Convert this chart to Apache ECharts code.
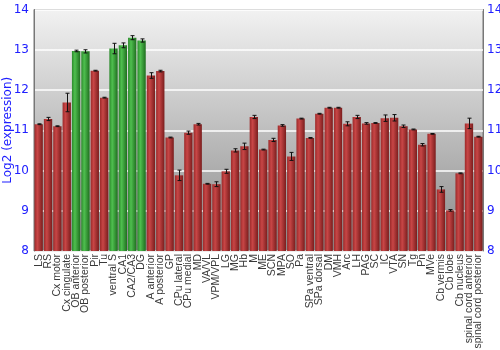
<!DOCTYPE html>
<html><head><meta charset="utf-8">
<script src="https://cdn.jsdelivr.net/npm/echarts@6/dist/echarts.min.js"></script>
<style>html,body{margin:0;padding:0;background:#fff}#c{width:500px;height:350px}</style>
</head><body><div id="c"></div>
<script>
const categories = ["LS","RS","Cx motor","Cx cingulate","OB anterior","OB posterior","Pir","Tu","ventral S","CA1","CA2/CA3","DG","A anterior","A posterior","GP","CPu lateral","CPu medial","MD","VA/VL","VPM/VPL","LG","MG","Hb","M","ME","SCN","MPA","SO","Pa","SPa ventral","SPa dorsal","DM","VMH","Arc","LH","PAG","SC","IC","VTA","SN","Tg","Pn","MVe","Cb vermis","Cb lobe","Cb nucleus","spinal cord anterior","spinal cord posterior"];
const values = [11.15,11.28,11.10,11.69,12.97,12.96,12.48,11.81,13.03,13.11,13.30,13.23,12.36,12.47,10.82,9.88,10.94,11.15,9.67,9.66,9.98,10.50,10.60,11.33,10.52,10.76,11.12,10.35,11.29,10.81,11.41,11.56,11.56,11.16,11.33,11.17,11.18,11.30,11.31,11.10,11.02,10.64,10.91,9.53,9.01,9.93,11.17,10.84];
const errors = [0.01,0.04,0.01,0.23,0.02,0.04,0.01,0.01,0.13,0.06,0.05,0.04,0.07,0.02,0.01,0.13,0.04,0.02,0.01,0.06,0.05,0.04,0.08,0.04,0.01,0.04,0.02,0.10,0.01,0.01,0.01,0.01,0.01,0.05,0.04,0.02,0.01,0.08,0.08,0.03,0.01,0.03,0.01,0.07,0.02,0.01,0.13,0.01];
const highlighted = ["OB anterior","OB posterior","ventral S","CA1","CA2/CA3","DG"];
const yTicks = [8,9,10,11,12,13,14];

function grad(a,b,c){return new echarts.graphic.LinearGradient(0,0,1,0,[{offset:0,color:a},{offset:0.35,color:b},{offset:1,color:c}]);}
const redG = grad('#9c2a2a','#c84646','#7a1d1d');
const greenG = grad('#2b8a2b','#4fbf4f','#1f6e1f');

const chart = echarts.init(document.getElementById('c'), null, {renderer:'canvas'});
chart.setOption({
  animation:false,
  grid:{left:34,right:17,top:9.5,bottom:99,containLabel:false,outerBoundsMode:'none',show:true,borderColor:'#777',borderWidth:1,
    backgroundColor:new echarts.graphic.LinearGradient(0,0,0,1,[{offset:0,color:'#f2f2f2'},{offset:1,color:'#8a8a8a'}])},
  xAxis:{type:'category',data:categories,boundaryGap:true,
    axisLine:{show:false},axisTick:{show:false},
    axisLabel:{interval:0,rotate:90,color:'#3a3a3a',fontSize:10.5,fontFamily:'Liberation Sans, Arial, sans-serif',margin:3,hideOverlap:false}},
  yAxis:[
    {type:'value',min:8,max:14,interval:1,name:'Log2 (expression)',nameLocation:'middle',nameGap:20,nameMoveOverlap:false,
     nameTextStyle:{color:'#2020ff',fontSize:12,fontFamily:'DejaVu Sans, sans-serif'},
     axisLine:{show:true,lineStyle:{color:'#777'}},axisTick:{show:false},
     axisLabel:{color:'#2020ff',fontSize:12,fontFamily:'DejaVu Sans, sans-serif',margin:5},
     splitLine:{show:true,lineStyle:{color:'#ffffff',width:1.5}}},
    {type:'value',min:8,max:14,interval:1,position:'right',
     axisLine:{show:true,lineStyle:{color:'#777'}},axisTick:{show:false},
     axisLabel:{color:'#2020ff',fontSize:12,fontFamily:'DejaVu Sans, sans-serif',margin:4},
     splitLine:{show:false}}
  ],
  series:[
    {type:'bar',barCategoryGap:'11%',
     data:values.map((v,i)=>({value:v,itemStyle:{color:highlighted.includes(categories[i])?greenG:redG}}))},
    {type:'custom',z:10,
     data:values.map((v,i)=>[i,v,errors[i]]),
     renderItem:function(params,api){
       const i=api.value(0),v=api.value(1),e=api.value(2);
       const hi=api.coord([i,v+e]),lo=api.coord([i,v-e]);
       const x=Math.round(hi[0])+0.5,w=2;
       const st={stroke:'#111',lineWidth:1};
       return {type:'group',children:[
         {type:'line',shape:{x1:x,y1:hi[1],x2:x,y2:lo[1]},style:st},
         {type:'line',shape:{x1:x-w,y1:hi[1],x2:x+w,y2:hi[1]},style:st},
         {type:'line',shape:{x1:x-w,y1:lo[1],x2:x+w,y2:lo[1]},style:st}
       ]};
     }}
  ]
});
</script></body></html>
